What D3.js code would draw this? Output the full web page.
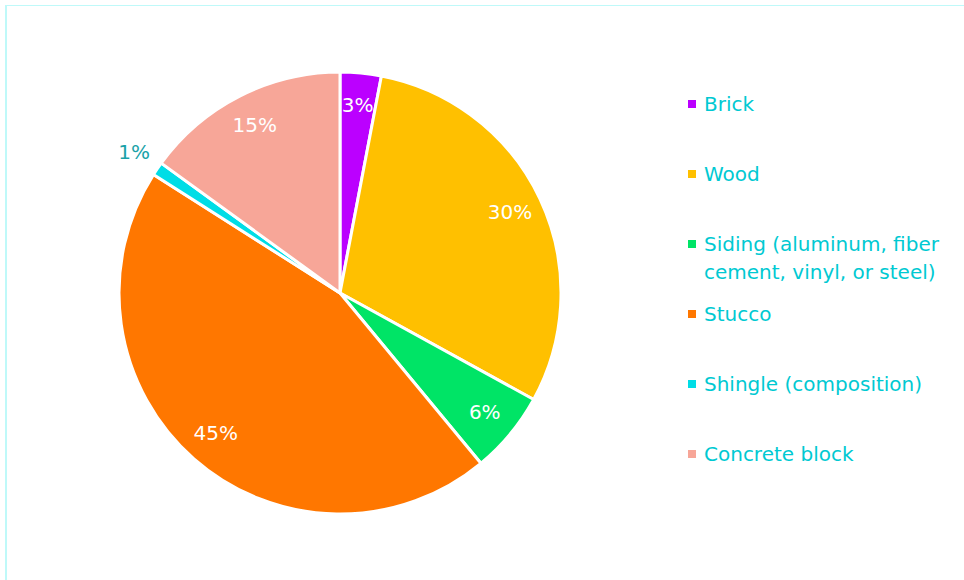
<!DOCTYPE html>
<html>
<head>
<meta charset="utf-8">
<script src="https://cdn.jsdelivr.net/npm/d3@7"></script>
<style>
  html, body { margin: 0; padding: 0; background: #fff; }
  svg { display: block; }
  text { font-family: "DejaVu Sans", "Liberation Sans", Arial, sans-serif; }
</style>
</head>
<body>
<svg id="chart" width="964" height="580"></svg>
<script>
// Exterior wall materials, share of homes (%)
const categories = ["Brick", "Wood", "Siding (aluminum, fiber cement, vinyl, or steel)", "Stucco", "Shingle (composition)", "Concrete block"];
const legendLines = [["Brick"], ["Wood"], ["Siding (aluminum, fiber", "cement, vinyl, or steel)"], ["Stucco"], ["Shingle (composition)"], ["Concrete block"]];
const values = [3, 30, 6, 45, 1, 15];
const colors = ["#bb00ff", "#ffc000", "#00e466", "#ff7700", "#00dde6", "#f7a698"];

const svg = d3.select("#chart");

// frame lines
svg.append("line").attr("x1", 5).attr("x2", 964).attr("y1", 5.5).attr("y2", 5.5)
  .attr("stroke", "#bff9f9").attr("stroke-width", 1);
svg.append("line").attr("x1", 6).attr("x2", 6).attr("y1", 5).attr("y2", 580)
  .attr("stroke", "#bff9f9").attr("stroke-width", 2);

const cx = 340, cy = 293, R = 221;
const g = svg.append("g").attr("transform", `translate(${cx},${cy})`);

const pie = d3.pie().sort(null).value(d => d);
const arcs = pie(values);
const arc = d3.arc().innerRadius(0).outerRadius(R);
const labelArc = d3.arc().innerRadius(R * 0.85).outerRadius(R * 0.85);
const outerLabelArc = d3.arc().innerRadius(249).outerRadius(249);

g.selectAll("path.slice").data(arcs).join("path")
  .attr("class", "slice")
  .attr("d", arc)
  .attr("fill", (d, i) => colors[i])
  .attr("stroke", "#fff")
  .attr("stroke-width", 3)
  .attr("stroke-linejoin", "round");

g.selectAll("text.lbl").data(arcs).join("text")
  .attr("class", "lbl")
  .attr("transform", d => `translate(${(d.data < 2 ? outerLabelArc : labelArc).centroid(d)})`)
  .attr("text-anchor", "middle")
  .attr("dy", "0.3em")
  .attr("font-size", 20)
  .attr("fill", d => d.data < 2 ? "#1aa2a8" : "#ffffff")
  .text(d => d.data + "%");

// legend
const legend = svg.append("g").attr("transform", "translate(688,104)");
const rowH = 70;
legendLines.forEach((lines, i) => {
  const row = legend.append("g").attr("transform", `translate(0,${i * rowH})`);
  row.append("rect").attr("x", 0).attr("y", -4).attr("width", 8).attr("height", 8)
    .attr("fill", colors[i]);
  const t = row.append("text").attr("x", 16).attr("y", 0)
    .attr("font-size", 20).attr("fill", "#00c9d2");
  lines.forEach((ln, j) => {
    t.append("tspan").attr("x", 16).attr("dy", j === 0 ? "0.36em" : 28).text(ln);
  });
});
</script>
</body>
</html>
